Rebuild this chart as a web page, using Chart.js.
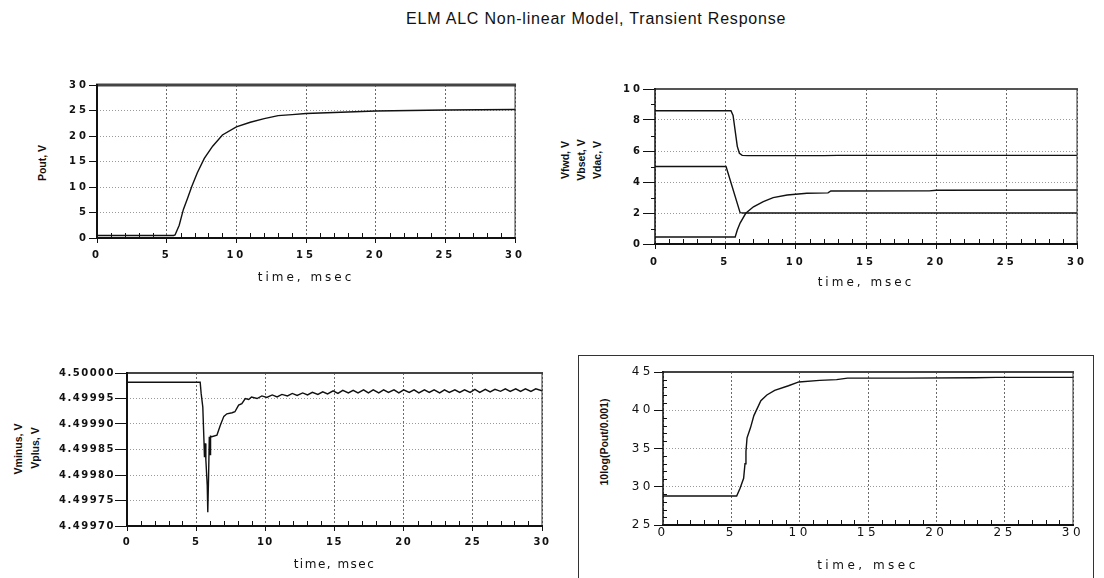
<!DOCTYPE html>
<html>
<head>
<meta charset="utf-8">
<script src="https://cdn.jsdelivr.net/npm/chart.js@4.4.1/dist/chart.umd.min.js"></script>
<style>
  body { margin: 0; width: 1104px; height: 578px; background: #fff; position: relative; overflow: hidden;
         font-family: "Liberation Sans", Arial, sans-serif; color: #111; }
  .wrap { position: absolute; }
  .title { position: absolute; left: 406px; top: 10px; font-size: 16px; letter-spacing: 0.8px; white-space: nowrap; }
  .ytitle { position: absolute; white-space: nowrap; font-size: 10.5px; font-weight: bold;
            transform: translate(-50%, -50%) rotate(-90deg); }
  .box4 { position: absolute; left: 578px; top: 355px; width: 514px; height: 240px;
          border: 1.5px solid #333; border-bottom: none; }
</style>
</head>
<body>
<div class="title">ELM ALC Non-linear Model, Transient Response</div>
<div class="box4"></div>

<div class="ytitle" style="left:42px;top:163px">Pout, V</div>
<div class="ytitle" style="left:565px;top:160px">Vfwd, V</div>
<div class="ytitle" style="left:581px;top:160px">Vbset, V</div>
<div class="ytitle" style="left:597px;top:160px">Vdac, V</div>
<div class="ytitle" style="left:18px;top:449px">Vminus, V</div>
<div class="ytitle" style="left:35px;top:448px">Vplus, V</div>
<div class="ytitle" style="left:604px;top:442px">10log(Pout/0.001)</div>

<div class="wrap" style="left:57px;top:77px;width:471px;height:211px"><canvas id="c1"></canvas></div>
<div class="wrap" style="left:615px;top:81px;width:477px;height:213px"><canvas id="c2"></canvas></div>
<div class="wrap" style="left:37px;top:365px;width:520px;height:209px"><canvas id="c3"></canvas></div>
<div class="wrap" style="left:618px;top:364px;width:470px;height:209px"><canvas id="c4"></canvas></div>

<script>
// ---- shared axis ticks ----
const xTicks = [0, 5, 10, 15, 20, 25, 30];
const xMinor = [1, 2, 3, 4, 6, 7, 8, 9, 11, 12, 13, 14, 16, 17, 18, 19, 21, 22, 23, 24, 26, 27, 28, 29];

// ---- Pout, V ----
const t1   = [0, 5.5, 5.6, 5.9, 6.2, 6.5, 6.8, 7.2, 7.7, 8.3, 9.0, 10, 11, 12, 13, 14, 15, 17, 19, 20, 25, 30];
const pout = [0.5, 0.5, 0.6, 2.5, 5.6, 7.8, 10.1, 12.8, 15.6, 18.0, 20.2, 21.8, 22.7, 23.4, 24.0, 24.2, 24.4, 24.6, 24.8, 24.9, 25.1, 25.2];
const yTicks1 = [0, 5, 10, 15, 20, 25, 30];

// ---- Vfwd / Vbset / Vdac ----
const tFwd  = [0, 5.4, 5.55, 5.7, 5.85, 6.0, 6.2, 6.6, 12, 13, 30];
const vfwd  = [8.6, 8.6, 8.3, 7.3, 6.3, 5.85, 5.72, 5.7, 5.7, 5.72, 5.72];
const tBset = [0, 5.05, 6.05, 6.3, 30];
const vbset = [5.0, 5.0, 2.02, 2.0, 2.0];
const tDac  = [0, 5.7, 5.85, 6.05, 6.45, 7.0, 7.7, 8.4, 9.4, 10.8, 12.3, 12.5, 19.5, 20, 30];
const vdac  = [0.45, 0.45, 0.9, 1.35, 1.98, 2.4, 2.73, 2.99, 3.16, 3.27, 3.3, 3.42, 3.43, 3.47, 3.48];
const yTicks2 = [0, 2, 4, 6, 8, 10];
const yMinor2 = [1, 3, 5, 7, 9];

// ---- Vminus / Vplus ----
const t3 = [0, 5.29, 5.36, 5.48, 5.56, 5.6, 5.66, 5.7, 5.8, 5.84, 5.9, 5.95, 6.0, 6.04, 6.13, 6.5, 6.74, 7.0, 7.22,
  7.6, 7.8, 8.07, 8.3, 8.55, 8.8, 9.0, 9.4, 9.75, 10.1, 10.5, 10.85, 11.2, 11.6, 11.95, 12.3, 12.7, 13.05, 13.4,
  13.8, 14.15, 14.5, 14.9, 15.25, 15.6, 16.0, 16.35, 16.7, 17.1, 17.45, 17.8, 18.2, 18.55, 18.9, 19.3, 19.65,
  20.0, 20.4, 20.75, 21.1, 21.5, 21.85, 22.2, 22.6, 22.95, 23.3, 23.7, 24.05, 24.4, 24.8, 25.15, 25.5, 25.9,
  26.25, 26.6, 27.0, 27.35, 27.7, 28.1, 28.45, 28.8, 29.2, 29.55, 30];
const vminus = [4.499982, 4.499982, 4.49996, 4.499933, 4.49987, 4.499835, 4.499862, 4.49983, 4.49978, 4.499727,
  4.4998, 4.499875, 4.49984, 4.499876, 4.499875, 4.499878, 4.499897, 4.499915, 4.49992,
  4.499922, 4.499924, 4.499937, 4.49994, 4.49995, 4.499948, 4.499953, 4.49995, 4.499955, 4.499952, 4.499957,
  4.499953, 4.499958, 4.499955, 4.49996, 4.499956, 4.499961, 4.499957, 4.499962,
  4.499958, 4.499963, 4.499959, 4.499965, 4.49996, 4.499966, 4.499961, 4.499966, 4.499961, 4.499967, 4.499961,
  4.499967, 4.499961, 4.499967, 4.499962, 4.499967, 4.499961,
  4.499967, 4.499962, 4.499967, 4.499961, 4.499967, 4.499962, 4.499967, 4.499961, 4.499967, 4.499962, 4.499967,
  4.499962, 4.499967, 4.499962, 4.499968, 4.499962, 4.499968,
  4.499963, 4.499968, 4.499964, 4.499969, 4.499964, 4.499969, 4.499964, 4.499969, 4.499964, 4.499969, 4.499965];
const yTicks3 = [4.4997, 4.49975, 4.4998, 4.49985, 4.4999, 4.49995, 4.5];

// ---- 10log(Pout/0.001) ----
const t4 = [0, 5.39, 5.64, 5.9, 6.0, 6.07, 6.15, 6.4, 6.65, 7.16, 7.6, 8.17, 9.18, 9.94, 11.46, 12.7, 13.5, 17.8, 22.8, 24.4, 30];
const pdb = [28.8, 28.8, 29.8, 31.1, 33.0, 34.6, 36.4, 37.7, 39.3, 41.25, 42.0, 42.6, 43.2, 43.7, 43.9, 44.0, 44.2, 44.2, 44.25, 44.3, 44.3];
const yTicks4 = [25, 30, 35, 40, 45];
const yMinor4 = [26, 27, 28, 29, 31, 32, 33, 34, 36, 37, 38, 39, 41, 42, 43, 44];

// letter spacing for the wide scanned lettering
const spacingPlugin = {
  id: 'spacing',
  beforeDraw(chart, args, opts) { chart.ctx.letterSpacing = (opts.px || 0) + 'px'; }
};

// plot frame + inward minor ticks
const framePlugin = {
  id: 'frame',
  afterDraw(chart, args, o) {
    const { ctx, chartArea: a, scales: { x, y } } = chart;
    const line = (x1, y1, x2, y2, w, c) => {
      ctx.beginPath(); ctx.lineWidth = w; ctx.strokeStyle = c;
      ctx.moveTo(x1, y1); ctx.lineTo(x2, y2); ctx.stroke();
    };
    ctx.save();
    ctx.setLineDash([]);
    xMinor.forEach(v => {
      const px = Math.round(x.getPixelForValue(v)) + 0.5;
      line(px, a.bottom, px, a.bottom - 5, 1, '#111');
    });
    (o.minorY || []).forEach(v => {
      const py = Math.round(y.getPixelForValue(v)) + 0.5;
      line(a.left, py, a.left + o.minorYLen, py, 1, '#111');
    });
    line(a.left - 1, a.top, a.right + 1, a.top, o.topW, o.topC);
    line(a.right, a.top, a.right, a.bottom, 1, '#333');
    line(a.left, a.top - 1, a.left, a.bottom + 1, o.leftW, '#111');
    line(a.left - 1, a.bottom, a.right + 1, a.bottom, o.botW, '#111');
    ctx.restore();
  }
};

function makeChart(id, series, cfg) {
  return new Chart(document.getElementById(id), {
    type: 'line',
    data: {
      datasets: series.map(s => ({
        data: s.t.map((t, i) => ({ x: t, y: s.v[i] })),
        borderColor: '#111', borderWidth: 1.4, pointRadius: 0, tension: 0, fill: false,
      })),
    },
    options: {
      animation: false,
      responsive: true,
      maintainAspectRatio: false,
      layout: { autoPadding: false, padding: { top: 8, right: cfg.padR, left: 0, bottom: 0 } },
      plugins: {
        legend: { display: false },
        tooltip: { enabled: false },
        spacing: { px: cfg.spacing },
        frame: { minorY: cfg.minorY, minorYLen: cfg.minorYLen, topW: cfg.topW, topC: cfg.topC, leftW: cfg.leftW, botW: 2.2 },
      },
      scales: {
        x: {
          type: 'linear', min: 0, max: 30,
          afterBuildTicks: s => { s.ticks = xTicks.map(v => ({ value: v })); },
          afterFit: s => { s.height = cfg.xH; },
          ticks: { font: cfg.tickFont, color: '#111', padding: cfg.xPad, maxRotation: 0 },
          grid: { color: '#6a6a6a', lineWidth: 1, drawTicks: cfg.xTl > 0, tickLength: cfg.xTl, tickColor: '#111' },
          border: { display: false, dash: [2, 2] },
          title: { display: true, text: 'time, msec', color: '#111', font: cfg.titleFont, padding: { top: 0, bottom: cfg.titlePad } },
        },
        y: {
          type: 'linear', min: cfg.yTicks[0], max: cfg.yTicks[cfg.yTicks.length - 1],
          afterBuildTicks: s => { s.ticks = cfg.yTicks.map(v => ({ value: v })); },
          afterFit: s => { s.width = cfg.yW; },
          ticks: { font: cfg.tickFont, color: '#111', padding: cfg.yPad, callback: cfg.fmt || (v => v) },
          grid: { color: '#9a9a9a', lineWidth: 1, tickLength: cfg.yTl, tickColor: '#111' },
          border: { display: false, dash: [1, 2] },
        },
      },
    },
    plugins: [spacingPlugin, framePlugin],
  });
}

const smallTick = { family: 'DejaVu Sans', size: 10, weight: 'bold' };
const timeFont = { family: 'DejaVu Sans', size: 12 };

makeChart('c1', [{ t: t1, v: pout }], {
  yTicks: yTicks1, yW: 40, padR: 12, xH: 50, xTl: 5, xPad: 6, yTl: 8, yPad: 0, titlePad: 3,
  spacing: 3, tickFont: smallTick, titleFont: timeFont, topW: 3, topC: '#444', leftW: 2,
});

makeChart('c2', [{ t: tFwd, v: vfwd }, { t: tBset, v: vbset }, { t: tDac, v: vdac }], {
  yTicks: yTicks2, yW: 40, padR: 15, xH: 50, xTl: 5, xPad: 7, yTl: 12, yPad: 0, titlePad: 4,
  spacing: 3, tickFont: smallTick, titleFont: timeFont, topW: 2, topC: '#555', leftW: 1.5,
  minorY: yMinor2, minorYLen: -4,
});

makeChart('c3', [{ t: t3, v: vminus }], {
  yTicks: yTicks3, yW: 90, padR: 15, xH: 48, xTl: 5, xPad: 5, yTl: 12, yPad: 0, titlePad: 2,
  spacing: 1.5, tickFont: smallTick, titleFont: timeFont, topW: 2, topC: '#444', leftW: 2,
  fmt: v => v.toFixed(5),
});

makeChart('c4', [{ t: t4, v: pdb }], {
  yTicks: yTicks4, yW: 45, padR: 15, xH: 48, xTl: 0, xPad: 1, yTl: 9, yPad: 0, titlePad: 0,
  spacing: 3.5, tickFont: { family: 'DejaVu Sans', size: 12 }, titleFont: timeFont, topW: 2, topC: '#444', leftW: 1.5,
  minorY: yMinor4, minorYLen: 4,
});
</script>
</body>
</html>
